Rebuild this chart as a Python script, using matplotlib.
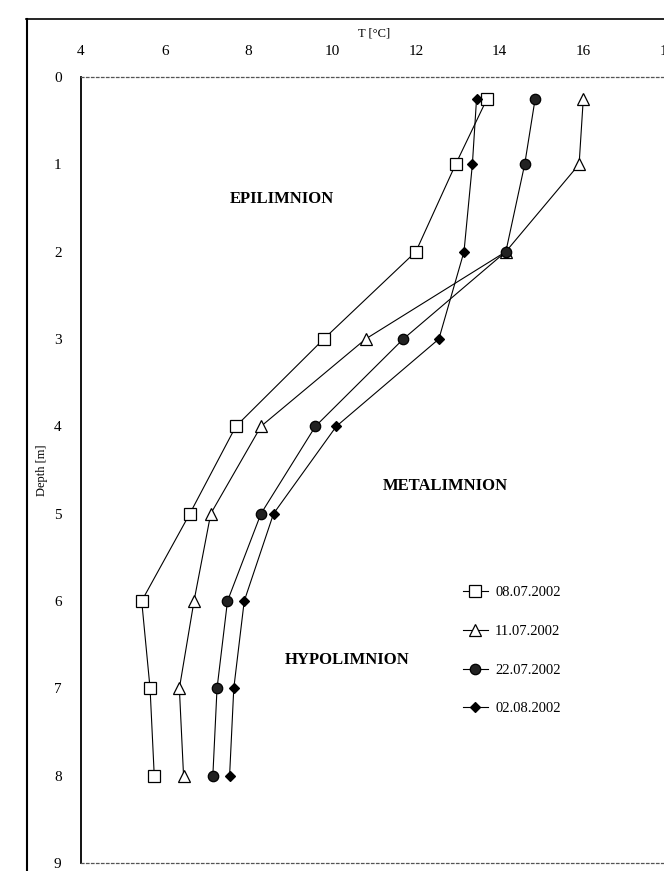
import matplotlib
matplotlib.use("Agg")
import matplotlib.pyplot as plt
from matplotlib.lines import Line2D

plt.rcParams['font.family'] = ['Liberation Serif', 'DejaVu Serif']

# sampling depths [m]
depth = [0.25, 1, 2, 3, 4, 5, 6, 7, 8]

# temperature profiles [deg C]
t_0807 = [13.7, 12.95, 12.0, 9.8, 7.7, 6.6, 5.45, 5.65, 5.75]
t_1107 = [16.0, 15.9, 14.15, 10.8, 8.3, 7.1, 6.7, 6.35, 6.45]
t_2207 = [14.85, 14.6, 14.15, 11.7, 9.6, 8.3, 7.5, 7.25, 7.15]
t_0208 = [13.45, 13.35, 13.15, 12.55, 10.1, 8.6, 7.9, 7.65, 7.55]

labels = ['08.07.2002', '11.07.2002', '22.07.2002', '02.08.2002']

W, H = 664, 871
fig = plt.figure(figsize=(W / 100, H / 100), dpi=100)
ax = fig.add_axes([81 / W, 1 - 863 / H, (667 - 81) / W, (863 - 77) / H])

ax.plot(t_0807, depth, color='black', lw=0.8, marker='s', ms=8,
        mfc='white', mec='black', mew=0.9, label=labels[0])
ax.plot(t_1107, depth, color='black', lw=0.8, marker='^', ms=8,
        mfc='white', mec='black', mew=0.9, label=labels[1])
ax.plot(t_2207, depth, color='black', lw=0.8, marker='o', ms=7.5,
        mfc='#222222', mec='black', mew=0.9, label=labels[2])
ax.plot(t_0208, depth, color='black', lw=0.8, marker='D', ms=5.5,
        mfc='black', mec='black', mew=0.9, label=labels[3])

ax.set_xlim(4, 18)
ax.set_ylim(9, 0)
ax.set_xticks(range(4, 19, 2))
ax.set_yticks(range(0, 10))
ax.xaxis.tick_top()
ax.xaxis.set_label_position('top')
ax.tick_params(length=0, labelsize=11)
ax.tick_params(axis='x', pad=14)
ax.tick_params(axis='y', pad=14)
ax.set_xlabel('T [°C]', fontsize=9, labelpad=6)
ax.set_ylabel('Depth [m]', fontsize=9, labelpad=4)

ax.spines['right'].set_visible(False)
ax.spines['left'].set_linewidth(1.3)
for s in ('top', 'bottom'):
    ax.spines[s].set_linestyle((0, (2, 2)))
    ax.spines[s].set_color('#555555')
    ax.spines[s].set_linewidth(0.9)

ax.text(8.8, 1.4, 'EPILIMNION', fontsize=12, fontweight='bold', ha='center', va='center')
ax.text(12.7, 4.68, 'METALIMNION', fontsize=12, fontweight='bold', ha='center', va='center')
ax.text(10.35, 6.68, 'HYPOLIMNION', fontsize=12, fontweight='bold', ha='center', va='center')

ax.legend(loc='upper left', bbox_to_anchor=(463 / W, 1 - 586 / H),
          bbox_transform=fig.transFigure, frameon=False, fontsize=10.5,
          handlelength=1.7, handletextpad=0.5, labelspacing=1.75,
          borderpad=0, borderaxespad=0)

# page frame
fig.add_artist(Line2D([26 / W, 1], [1 - 19 / H, 1 - 19 / H], transform=fig.transFigure,
                      color='black', lw=1.2))
fig.add_artist(Line2D([27 / W, 27 / W], [0, 1 - 19 / H], transform=fig.transFigure,
                      color='black', lw=1.5))

fig.savefig('out.png', dpi=100)
